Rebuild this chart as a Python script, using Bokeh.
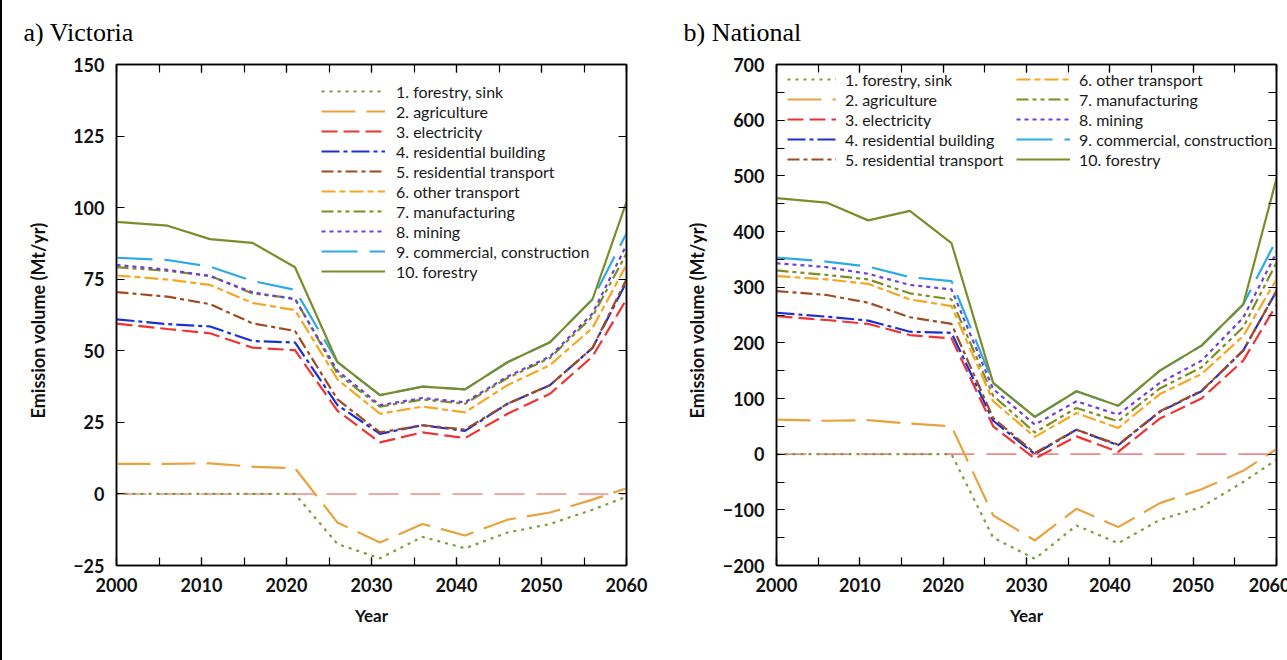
from bokeh.plotting import figure
from bokeh.models import Legend, LegendItem, LinearAxis, Span, Title, FixedTicker, Range1d
from bokeh.layouts import row
from bokeh.embed import file_html
from bokeh.resources import INLINE

years = [2000, 2006, 2011, 2016, 2021, 2026, 2031, 2036, 2041, 2046, 2051, 2056, 2060]

sector_names = [
    "1. forestry, sink", "2. agriculture", "3. electricity", "4. residential building",
    "5. residential transport", "6. other transport", "7. manufacturing", "8. mining",
    "9. commercial, construction", "10. forestry",
]

# a) Victoria (cumulative lines, Mt/yr)
vic_forestry_sink = [0, 0, 0, 0, 0, -17.5, -22.5, -15, -19, -13.5, -10.5, -5.5, -1]
vic_agriculture = [10.5, 10.5, 10.7, 9.5, 9, -10, -17, -10.5, -14.5, -9, -6.5, -2, 2]
vic_electricity = [59.5, 57.6, 56.1, 51.1, 50.2, 29, 18, 21.5, 19.5, 28, 35, 48, 68]
vic_res_building = [61, 59.3, 58.5, 53.4, 52.9, 31, 21, 24, 22, 31.5, 38, 51, 74]
vic_res_transport = [70.5, 68.9, 66.3, 59.6, 56.9, 33, 21.5, 24, 22.5, 31.5, 38, 51, 75]
vic_other_transport = [76.3, 74.9, 73, 66.7, 64.2, 40, 28, 30.5, 28.5, 38, 45, 58, 80]
vic_manufacturing = [79.2, 77.9, 76.2, 70, 68.3, 42, 30.5, 33, 31.5, 40.5, 47.5, 62, 84]
vic_mining = [80, 78.3, 76.1, 70.4, 68, 43, 31, 33.5, 32, 41, 48, 63, 87]
vic_commercial = [82.5, 81.7, 79.4, 74.4, 71.3, 46, 34.5, 37.5, 36.5, 46, 53, 68, 91]
vic_forestry = [95, 93.7, 89, 87.7, 79.2, 46, 34.5, 37.5, 36.5, 46, 53, 68, 102]

# b) National (cumulative lines, Mt/yr)
nat_forestry_sink = [0, 0, 0, 0, 0, -150, -188, -128, -160, -118, -95, -50, -10]
nat_agriculture = [62, 60, 61, 55, 50, -110, -155, -98, -131, -88, -63, -30, 9]
nat_electricity = [248, 241, 234, 214, 208, 50, -8, 32, 4, 64, 100, 168, 268]
nat_res_building = [254, 247, 240, 220, 218, 60, 0, 44, 16, 76, 113, 186, 293]
nat_res_transport = [293, 286, 272, 246, 234, 65, 2, 44, 17, 77, 114, 186, 293]
nat_other_transport = [320, 314, 306, 278, 266, 95, 31, 74, 47, 108, 144, 212, 314]
nat_manufacturing = [330, 322, 314, 289, 278, 105, 39, 83, 59, 118, 156, 228, 344]
nat_mining = [343, 336, 324, 304, 296, 117, 53, 95, 71, 128, 168, 245, 362]
nat_commercial = [353, 346, 337, 318, 311, 128, 67, 113, 87, 150, 195, 269, 385]
nat_forestry = [460, 452, 420, 437, 379, 128, 67, 113, 87, 150, 195, 269, 495]

vic_series = [vic_forestry_sink, vic_agriculture, vic_electricity, vic_res_building,
              vic_res_transport, vic_other_transport, vic_manufacturing, vic_mining,
              vic_commercial, vic_forestry]
nat_series = [nat_forestry_sink, nat_agriculture, nat_electricity, nat_res_building,
              nat_res_transport, nat_other_transport, nat_manufacturing, nat_mining,
              nat_commercial, nat_forestry]

colors = ["#7d9e3a", "#e8a23e", "#ee3333", "#1b2fd6", "#a04a22",
          "#f6a623", "#7e8e20", "#6a40e0", "#2caae8", "#7b8d2b"]
dashes = ["3 5", "34 11", "16 6", "18 4 4 4", "12 4 4 4",
          "14 4 6 4", "12 4 4 4 4 4", "4 4", "36 12", "solid"]

TICK_FONT = "Lato"
FRAME_H = 501


def style_axis(ax, show_labels):
    ax.axis_line_color = "black"
    ax.axis_line_width = 1.5
    ax.major_tick_line_color = "black"
    ax.minor_tick_line_color = "black"
    ax.major_tick_line_width = 1.2
    ax.minor_tick_line_width = 1.2
    ax.major_tick_in = 8
    ax.major_tick_out = 0
    ax.minor_tick_in = 8
    ax.minor_tick_out = 0
    ax.major_label_text_font = TICK_FONT
    ax.major_label_text_font_style = "bold"
    if show_labels:
        ax.major_label_text_font_size = "18px"
        ax.major_label_text_color = "#111111"
    else:
        ax.major_label_text_font_size = "6px"
        ax.major_label_text_color = None
    ax.axis_label_text_font = TICK_FONT
    ax.axis_label_text_font_style = "bold"
    ax.axis_label_text_font_size = "17px"
    ax.axis_label_text_color = "#111111"


def make_panel(title_text, width, border_left, border_right, frame_w, y_lo, y_hi,
               y_major, y_minor, series, legend_specs, ylab_standoff):
    p = figure(width=width, height=660, frame_width=frame_w, frame_height=FRAME_H,
               min_border_left=border_left, min_border_right=border_right,
               min_border_top=64, min_border_bottom=95,
               x_range=Range1d(2000, 2060), y_range=Range1d(y_lo, y_hi),
               output_backend="svg", toolbar_location=None,
               background_fill_color="white", border_fill_color="white")
    p.xgrid.visible = False
    p.ygrid.visible = False
    p.outline_line_color = "black"
    p.outline_line_width = 1.5

    xt = FixedTicker(ticks=list(range(2000, 2061, 10)), minor_ticks=list(range(2000, 2061, 5)))
    yt = FixedTicker(ticks=y_major, minor_ticks=y_minor)

    p.xaxis.ticker = xt
    p.yaxis.ticker = yt
    p.xaxis.axis_label = "Year"
    p.xaxis.axis_label_standoff = 10
    style_axis(p.xaxis[0], True)
    style_axis(p.yaxis[0], True)
    p.yaxis.major_label_standoff = 12
    p.xaxis.major_label_standoff = 12

    ax_top = LinearAxis(ticker=xt)
    ax_right = LinearAxis(ticker=yt)
    style_axis(ax_top, False)
    style_axis(ax_right, False)
    ax_top.major_label_standoff = 0
    ax_right.major_label_standoff = 0
    p.add_layout(ax_top, "above")
    p.add_layout(ax_right, "right")

    zero = Span(location=0, dimension="width", line_color="#f08a8a", line_width=1.6,
                line_dash="30 12", level="underlay")
    p.add_layout(zero)

    rends = []
    for i, ys in enumerate(series):
        r = p.line(years, ys, line_color=colors[i], line_width=2.2, line_dash=dashes[i])
        rends.append(r)

    for (idx, loc, gw, standoff) in legend_specs:
        items = [LegendItem(label=sector_names[i], renderers=[rends[i]]) for i in idx]
        leg = Legend(items=items, location=loc, glyph_width=gw, glyph_height=20,
                     label_height=20, label_standoff=standoff, spacing=0, padding=0,
                     margin=0, border_line_alpha=0, background_fill_alpha=0,
                     label_text_font="Lato", label_text_font_size="16px",
                     label_text_color="#1a1a1a")
        p.add_layout(leg)

    t = Title(text=title_text, align="left", vertical_align="top",
              offset=-(border_left - 20),
              text_font="Liberation Serif", text_font_style="normal",
              text_font_size="26px", text_color="black", standoff=32)
    p.add_layout(t, "above")

    yl = Title(text="Emission volume (Mt/yr)", align="right", offset=158,
               text_font=TICK_FONT, text_font_style="bold", text_font_size="18px",
               text_color="#111111", standoff=ylab_standoff)
    p.add_layout(yl, "left")
    return p


pa = make_panel("a) Victoria", 660, 113, 37, 510, -25, 150,
                list(range(-25, 151, 25)), [],
                vic_series, [(list(range(10)), (205, 284), 64, 11)], 44)
pb = make_panel("b) National", 627, 113, 14, 500, -200, 700,
                list(range(-200, 701, 100)), list(range(-200, 701, 50)),
                nat_series, [(list(range(5)), (11, 396), 49, 9),
                             (list(range(5, 10)), (240, 396), 54, 9)], 24)

layout = row(pa, pb, styles={"border-left": "2px solid black", "border-bottom": "2px solid black"})

with open("out.html", "w") as f:
    f.write(file_html(layout, INLINE))
